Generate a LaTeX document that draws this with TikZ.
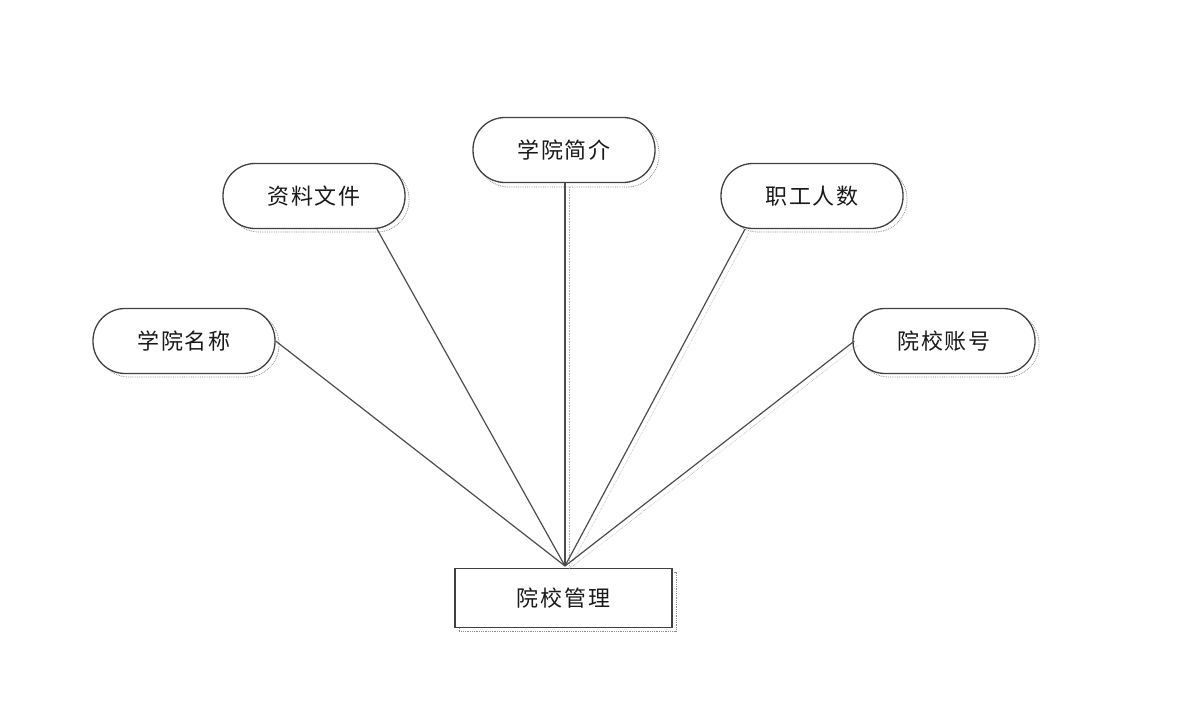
\documentclass[tikz,border=0pt]{standalone}
\usepackage{fontspec}
\newfontfamily\cjk[LetterSpace=8]{Noto Sans CJK SC}
\begin{document}
\begin{tikzpicture}[x=1pt,y=-1pt,
  attr/.style={draw=black!75,line width=1.3pt,rounded corners=32pt,minimum width=182pt,minimum height=65pt,inner sep=0pt,fill=white,font=\cjk\fontsize{22}{26}\selectfont,text=black!90},
  ent/.style={draw=black!75,line width=1.3pt,minimum width=217pt,minimum height=59pt,inner sep=0pt,fill=white,font=\cjk\fontsize{22}{26}\selectfont,text=black!90},
  shad/.style={draw=black!45,densely dotted,line width=0.8pt},
  conn/.style={draw=black!70,line width=1.2pt},
  connshad/.style={draw=black!30,densely dotted,line width=0.6pt}]
\useasboundingbox (0,0) rectangle (1182,720);
% shadows
\draw[shad,rounded corners=32pt] (477,121) rectangle (659,187);
\draw[shad,rounded corners=32pt] (227,167) rectangle (409,232);
\draw[shad,rounded corners=32pt] (726,167) rectangle (907,232);
\draw[shad,rounded corners=32pt] (97,312) rectangle (279,377);
\draw[shad,rounded corners=32pt] (857,312) rectangle (1039,377);
\draw[shad] (459,572) rectangle (676,631);
% nodes
\node[attr] (jj) at (564,150) {学院简介};
\node[attr] (zl) at (314,196) {资料文件};
\node[attr] (zg) at (812,196) {职工人数};
\node[attr] (mc) at (184,341) {学院名称};
\node[attr] (zh) at (944,341) {院校账号};
\coordinate (hub) at (565,566);
\node[ent,anchor=north] (gl) at (563.5,568) {院校管理};
% connector anchors
\path (zl.south) ++(63,0) coordinate (zls);
\path (jj.south) ++(1,0) coordinate (jjs);
\path (zg.south) ++(-67,0) coordinate (zgs);
\path (zh.west) ++(2,0) coordinate (zhs);
% connector shadows
\draw[connshad] ([shift={(4,4)}]zhs) -- ([shift={(4,3)}]hub);
\draw[connshad] ([shift={(4,4)}]zgs) -- ([shift={(4,3)}]hub);
\draw[connshad] ([shift={(4,4)}]jjs) -- ([shift={(4,0)}]hub);
% connectors
\draw[conn] (mc.east) -- (hub);
\draw[conn] (zls) -- (hub);
\draw[conn] (jjs) -- (hub);
\draw[conn] (zgs) -- (hub);
\draw[conn] (zhs) -- (hub);
\end{tikzpicture}
\end{document}
